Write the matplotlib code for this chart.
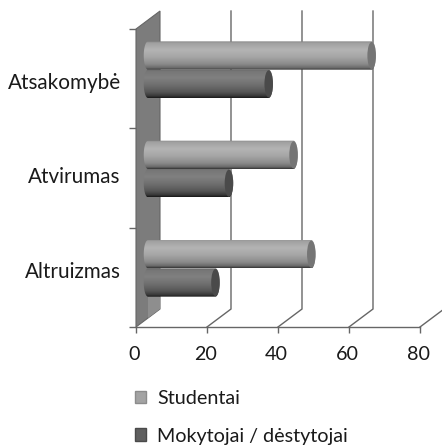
"""Horizontal 3D-style cylinder bars, students vs teachers."""
import numpy as np
import matplotlib
matplotlib.use("Agg")
import matplotlib.pyplot as plt
from matplotlib.colors import LinearSegmentedColormap
from matplotlib.patches import Ellipse, PathPatch, Patch, Polygon
from matplotlib.path import Path
from matplotlib.transforms import ScaledTranslation

plt.rcParams["font.family"] = ["Lato", "DejaVu Sans"]

categories = ["Altruizmas", "Atvirumas", "Atsakomybė"]
studentai = [46, 41, 63]
mokytojai = [19, 22.8, 34]
x_ticks = [0, 20, 40, 60, 80]
series_names = ["Studentai", "Mokytojai / dėstytojai"]

W, H = 442, 446
DEPTH_X = 6.76   # oblique offset of the back wall, x units
DEPTH_Y = 0.181  # same, category units
BAR_H = 0.285
CAP_W = 2.4      # end cap width, x units
FS = 14.2

LIGHT = LinearSegmentedColormap.from_list("light", [
    (0, "#7f7f7f"), (0.06, "#a0a0a0"), (0.3, "#b4b4b4"), (0.55, "#a6a6a6"),
    (0.8, "#8a8a8a"), (0.93, "#6a6a6a"), (1, "#333333")])
DARK = LinearSegmentedColormap.from_list("dark", [
    (0, "#666666"), (0.08, "#777777"), (0.3, "#808080"), (0.55, "#6f6f6f"),
    (0.8, "#555555"), (0.93, "#383838"), (1, "#161616")])


def cylinder(ax, value, y0, cmap, cap_color):
    # gradient clipped to a rounded bar, then the darker end cap on top
    x0 = DEPTH_X / 2
    x1 = x0 + value
    yc = y0 + BAR_H / 2
    t = np.linspace(np.pi / 2, -np.pi / 2, 30)
    right = np.c_[x1 + CAP_W / 2 * np.cos(t), yc + BAR_H / 2 * np.sin(t)]
    t = np.linspace(-np.pi / 2, -3 * np.pi / 2, 30)
    left = np.c_[x0 + CAP_W / 2 * np.cos(t), yc + BAR_H / 2 * np.sin(t)]
    path = Path(np.r_[right, left, right[:1]], closed=False)
    im = ax.imshow(np.linspace(1, 0, 128)[:, None], cmap=cmap, vmin=0, vmax=1,
                   extent=[x0 - CAP_W, x1 + CAP_W, y0, y0 + BAR_H],
                   aspect="auto", origin="lower", zorder=4, interpolation="bilinear")
    clip = PathPatch(path, transform=ax.transData, fc="none", ec="none")
    ax.add_patch(clip)
    im.set_clip_path(clip)
    ax.add_patch(Ellipse((x1, yc), CAP_W, BAR_H * 0.96, fc=cap_color, ec="none", zorder=5))


fig = plt.figure(figsize=(W / 100, H / 100), dpi=100)
ax = fig.add_axes([136 / W, (H - 327) / H, 284 / W, 298 / H])
ax.set_xlim(0, 80)
ax.set_ylim(0, 3)

# side wall and its lighter lower strip
ax.add_patch(Polygon([(0, 0), (0, 3), (DEPTH_X, 3 + DEPTH_Y), (DEPTH_X, DEPTH_Y)],
                     fc="#7c7c7c", ec="#666666", lw=0.8, clip_on=False, zorder=1))
ax.add_patch(Polygon([(DEPTH_X * 0.5, DEPTH_Y * 0.5), (DEPTH_X * 0.5, 0.3),
                      (DEPTH_X, 0.3), (DEPTH_X, DEPTH_Y)],
                     fc="#8e8e8e", ec="none", clip_on=False, zorder=2))

# back gridlines and the floor lines running to them
for v in x_ticks[1:]:
    ax.plot([v, v + DEPTH_X, v + DEPTH_X], [0, DEPTH_Y, 3 + DEPTH_Y], color="#666666",
            lw=1.0, clip_on=False, zorder=1, solid_joinstyle="miter")

for i in range(len(categories)):
    yc = i + 0.5 + DEPTH_Y / 2
    cylinder(ax, studentai[i], yc, LIGHT, "#757575")
    cylinder(ax, mokytojai[i], yc - BAR_H, DARK, "#4a4a4a")

ax.set_xlim(0, 80)
ax.set_ylim(0, 3)

for s in ("top", "right", "left"):
    ax.spines[s].set_visible(False)
ax.spines["bottom"].set_color("#666666")
ax.spines["bottom"].set_linewidth(1.0)
ax.spines["bottom"].set_zorder(6)

ax.set_xticks(x_ticks)
ax.set_yticks([0, 1, 2, 3])
ax.set_yticklabels([])
# labels are not quite centred between the ticks in the original
ax.set_yticks([0.574, 1.53, 2.476], labels=categories, minor=True)
ax.tick_params(axis="x", length=4.5, width=1, color="#666666", pad=9,
               labelsize=FS, labelcolor="#1a1a1a")
ax.tick_params(axis="y", which="major", length=5, width=1, color="#666666")
ax.tick_params(axis="y", which="minor", length=0, pad=11, labelsize=14.9,
               labelcolor="#1a1a1a")
# tick numbers sit a little left of their ticks in the original
shift = ScaledTranslation(-1.5 / 100, 0, fig.dpi_scale_trans)
for lab in ax.get_xticklabels():
    lab.set_transform(lab.get_transform() + shift)

handles = [Patch(fc="#a3a3a3", ec="#8c8c8c"), Patch(fc="#5f5f5f", ec="#4a4a4a")]
fig.legend(handles, series_names, loc="upper left", bbox_to_anchor=(135 / W, 1 - 390 / H),
           frameon=False, fontsize=FS, handlelength=0.58, handleheight=0.6,
           handletextpad=0.55, labelspacing=1.05, labelcolor="#1a1a1a",
           borderpad=0, borderaxespad=0)

fig.savefig("out.png", dpi=100)
